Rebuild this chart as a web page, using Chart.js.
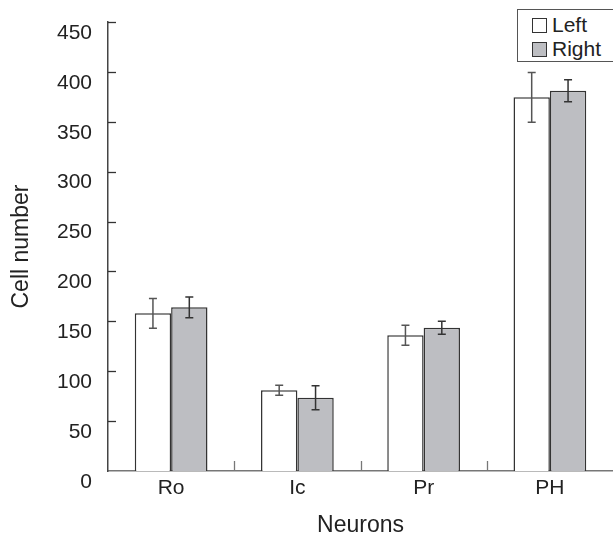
<!DOCTYPE html>
<html lang="en">
<head>
    <meta charset="UTF-8">
    <title>Cell number by neuron group</title>
    <script src="https://cdn.jsdelivr.net/npm/chart.js"></script>
    <style>
        html, body { margin: 0; padding: 0; background: #fff; }
        #wrap { position: relative; width: 613px; height: 536px; overflow: hidden; }
        .legend {
            position: absolute; left: 517px; top: 9px; width: 110px; height: 51px;
            border: 1px solid #555; background: #fff;
            font-family: "Liberation Sans", Arial, sans-serif; font-size: 21px; color: #222;
        }
        .legend div { position: absolute; left: 14px; height: 23px; line-height: 23px; }
        .legend span {
            display: inline-block; width: 13px; height: 13px; border: 1px solid #333;
            vertical-align: -1px; margin-right: 5px;
        }
    </style>
</head>
<body>
    <div id="wrap">
        <canvas id="chart" width="613" height="536"></canvas>
        <div class="legend" id="legend"></div>
    </div>
    <script>
        // Data
        const categories = ['Ro', 'Ic', 'Pr', 'PH'];
        const seriesNames = ['Left', 'Right'];
        const leftValues = [158, 81, 136, 374.5];
        const leftErrors = [15, 5, 10, 25];
        const rightValues = [164, 73.5, 143.5, 381];
        const rightErrors = [10.5, 12, 6.5, 11];
        const yTicks = [0, 50, 100, 150, 200, 250, 300, 350, 400, 450];

        const seriesColors = ['#ffffff', '#bdbec2'];
        const seriesErrors = [leftErrors, rightErrors];
        const font = "'Liberation Sans', Arial, sans-serif";

        // legend (html, drawn over the canvas)
        const legendEl = document.getElementById('legend');
        seriesNames.forEach((name, i) => {
            const row = document.createElement('div');
            row.style.top = (3 + i * 24) + 'px';
            row.innerHTML = '<span style="background:' + seriesColors[i] + '"></span>' + name;
            legendEl.appendChild(row);
        });

        // error bars + inward tick marks
        const extras = {
            id: 'extras',
            afterDraw(chart) {
                const ctx = chart.ctx;
                const y = chart.scales.y;
                const x = chart.scales.x;
                const area = chart.chartArea;
                ctx.save();
                ctx.lineWidth = 1.5;
                chart.data.datasets.forEach((ds, i) => {
                    ctx.strokeStyle = i === 0 ? '#555' : '#333';
                    chart.getDatasetMeta(i).data.forEach((bar, j) => {
                        const v = ds.data[j];
                        const e = seriesErrors[i][j];
                        const top = y.getPixelForValue(v + e);
                        const bot = y.getPixelForValue(v - e);
                        ctx.beginPath();
                        ctx.moveTo(bar.x, top); ctx.lineTo(bar.x, bot);
                        ctx.moveTo(bar.x - 4, top); ctx.lineTo(bar.x + 4, top);
                        ctx.moveTo(bar.x - 4, bot); ctx.lineTo(bar.x + 4, bot);
                        ctx.stroke();
                    });
                });
                // y ticks pointing inward
                ctx.strokeStyle = '#333';
                ctx.lineWidth = 1.3;
                for (const t of yTicks) {
                    if (t === 0) continue;
                    const py = Math.round(y.getPixelForValue(t)) + 0.5;
                    ctx.beginPath();
                    ctx.moveTo(area.left, py);
                    ctx.lineTo(area.left + 8, py);
                    ctx.stroke();
                }
                // category separators on the x axis
                ctx.strokeStyle = '#777';
                for (let i = 1; i < categories.length; i++) {
                    const px = Math.round((x.getPixelForValue(i - 1) + x.getPixelForValue(i)) / 2) + 0.5;
                    ctx.beginPath();
                    ctx.moveTo(px, area.bottom); ctx.lineTo(px, area.bottom - 10);
                    ctx.stroke();
                }
                ctx.restore();
            }
        };

        new Chart(document.getElementById('chart'), {
            type: 'bar',
            data: {
                labels: categories,
                datasets: [
                    { label: seriesNames[0], data: leftValues, backgroundColor: seriesColors[0], borderColor: '#333', borderWidth: 1.5 },
                    { label: seriesNames[1], data: rightValues, backgroundColor: seriesColors[1], borderColor: '#333', borderWidth: 1.5 }
                ]
            },
            options: {
                responsive: false,
                animation: false,
                layout: { padding: { top: 22, right: 0, left: 0, bottom: 0 } },
                datasets: { bar: { barPercentage: 1, categoryPercentage: 0.576 } },
                plugins: { legend: { display: false }, tooltip: { enabled: false } },
                scales: {
                    x: {
                        grid: { display: false, drawTicks: false },
                        border: { color: '#777', width: 1.5 },
                        ticks: { color: '#222', font: { family: font, size: 21 }, padding: 5, maxRotation: 0 },
                        title: { display: true, text: 'Neurons', color: '#222', font: { family: font, size: 23 }, padding: { top: 4, bottom: -3 } },
                        afterFit: s => { s.height = 65; s.paddingLeft = 0; s.paddingRight = 0; }
                    },
                    y: {
                        min: 0, max: 450,
                        afterBuildTicks: s => { s.ticks = yTicks.map(v => ({ value: v })); },
                        grid: { display: false, drawTicks: false },
                        border: { color: '#444', width: 1.5 },
                        ticks: { color: '#222', font: { family: font, size: 21 }, padding: 16, labelOffset: 11 },
                        title: { display: true, text: 'Cell number', color: '#222', font: { family: font, size: 23 }, padding: { top: 8, bottom: 0 } },
                        afterFit: s => { s.width = 108; s.paddingTop = 0; s.paddingBottom = 0; }
                    }
                }
            },
            plugins: [extras]
        });
    </script>
</body>
</html>
